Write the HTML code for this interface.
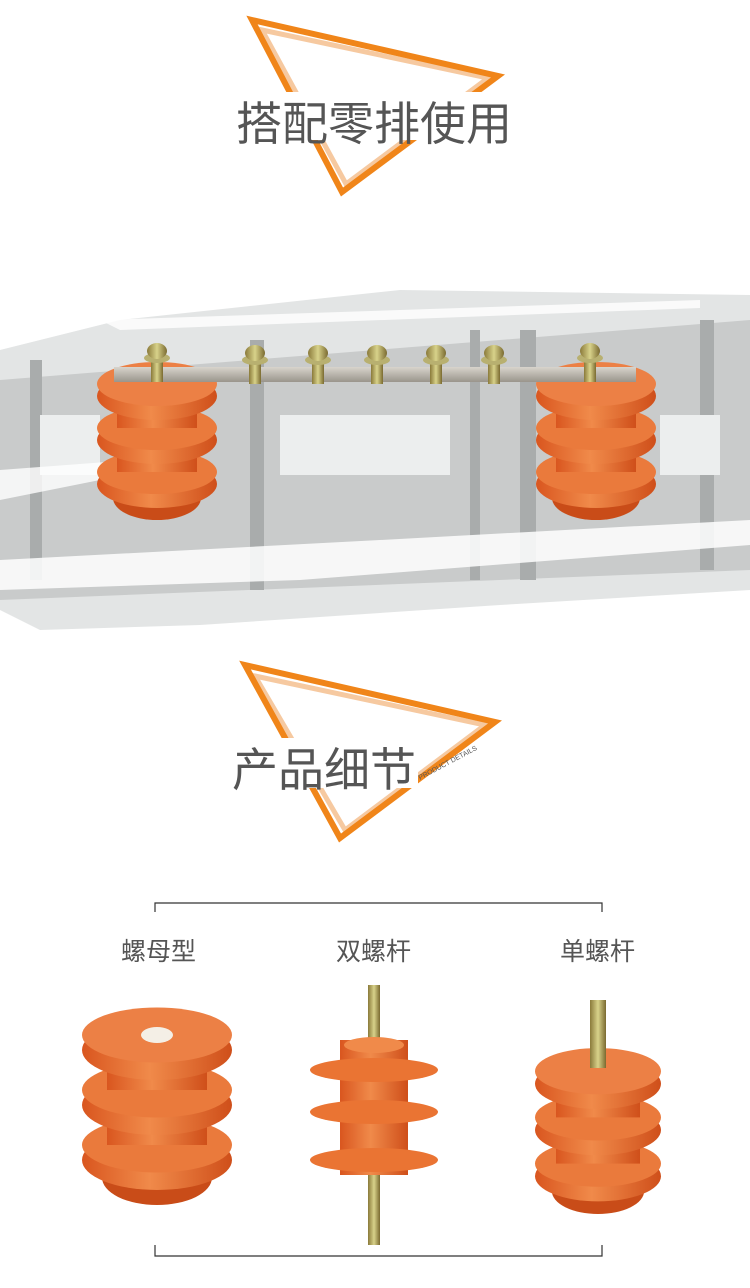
<!DOCTYPE html>
<html><head><meta charset="utf-8"><style>
html,body{margin:0;padding:0;background:#fff;}
body{width:750px;height:1288px;position:relative;overflow:hidden;font-family:"Liberation Sans","Noto Sans CJK SC",sans-serif;}
.t{position:absolute;color:#555;white-space:nowrap;}
</style></head><body>
<svg width="750" height="1288" style="position:absolute;left:0;top:0">
<defs>
<linearGradient id="og" x1="0" x2="1"><stop offset="0" stop-color="#d9561f"/><stop offset="0.45" stop-color="#f08a4a"/><stop offset="1" stop-color="#cf4f1a"/></linearGradient>
<linearGradient id="sg" x1="0" x2="1"><stop offset="0" stop-color="#8a7a3a"/><stop offset="0.5" stop-color="#d8d28a"/><stop offset="1" stop-color="#7a6a30"/></linearGradient>
<linearGradient id="bar" x1="0" y1="0" x2="0" y2="1"><stop offset="0" stop-color="#d8d4cc"/><stop offset="1" stop-color="#9a958c"/></linearGradient>
<g id="ins">
<ellipse cx="0" cy="58" rx="44" ry="22" fill="#c94c18"/>
<rect x="-44" y="45" width="88" height="13" fill="url(#og)"/>
<ellipse cx="0" cy="44" rx="60" ry="24" fill="url(#og)"/>
<ellipse cx="0" cy="32" rx="60" ry="22" fill="#ea7a3c"/>
<rect x="-40" y="10" width="80" height="22" fill="url(#og)"/>
<ellipse cx="0" cy="0" rx="60" ry="24" fill="url(#og)"/>
<ellipse cx="0" cy="-12" rx="60" ry="22" fill="#ea7a3c"/>
<rect x="-40" y="-34" width="80" height="22" fill="url(#og)"/>
<ellipse cx="0" cy="-44" rx="60" ry="24" fill="url(#og)"/>
<ellipse cx="0" cy="-56" rx="60" ry="22" fill="#ec8045"/>
</g>
<g id="scr">
<rect x="-6" y="0" width="12" height="22" fill="url(#sg)"/>
<ellipse cx="0" cy="-2" rx="13" ry="5" fill="#b8b070"/>
<ellipse cx="0" cy="-9" rx="10" ry="8" fill="url(#sg)"/>
</g>
</defs>

<!-- triangle 1 -->
<polygon points="262,30 488,78 346,184" fill="none" stroke="#f6c9a0" stroke-width="5"/>
<polygon points="252,20 498,76 342,192" fill="none" stroke="#f08519" stroke-width="6"/>
<rect x="232" y="92" width="285" height="48" fill="#fff"/>

<!-- brush band -->
<polygon points="0,350 120,320 400,290 750,295 750,590 500,605 200,625 40,630 0,610" fill="#e3e5e5"/>
<polygon points="0,380 750,320 750,570 0,600" fill="#c9cbcb"/>
<g fill="#a9acac">
<rect x="30" y="360" width="12" height="220"/><rect x="250" y="340" width="14" height="250"/><rect x="470" y="330" width="10" height="250"/><rect x="520" y="330" width="16" height="250"/><rect x="700" y="320" width="14" height="250"/>
</g>
<g fill="#eceeee"><rect x="280" y="415" width="170" height="60"/><rect x="40" y="415" width="60" height="60"/><rect x="660" y="415" width="60" height="60"/></g>
<polygon points="0,470 200,455 150,470 0,500" fill="#fff" opacity=".8"/>
<polygon points="0,560 380,540 750,520 750,545 300,580 0,590" fill="#fff" opacity=".85"/>
<polygon points="100,320 700,300 700,308 120,330" fill="#fff" opacity=".8"/>

<use href="#ins" x="157" y="440"/>
<use href="#ins" x="596" y="440"/>
<rect x="114" y="367" width="522" height="15" fill="url(#bar)"/>
<use href="#scr" x="157" y="360"/>
<use href="#scr" x="255" y="362"/><use href="#scr" x="318" y="362"/><use href="#scr" x="377" y="362"/><use href="#scr" x="436" y="362"/><use href="#scr" x="494" y="362"/>
<use href="#scr" x="590" y="360"/>

<!-- triangle 2 -->
<polygon points="255,676 485,725 345,830" fill="none" stroke="#f6c9a0" stroke-width="5"/>
<polygon points="245,665 495,722 340,838" fill="none" stroke="#f08519" stroke-width="6"/>
<rect x="228" y="738" width="190" height="50" fill="#fff"/>
<text x="420" y="780" font-size="7" fill="#555" transform="rotate(-28 420 780)" font-family="Liberation Sans">PRODUCT DETAILS</text>

<!-- brackets -->
<path d="M155,912 V903 H602 V912" fill="none" stroke="#333" stroke-width="1.2"/>
<path d="M155,1245 V1256 H602 V1245" fill="none" stroke="#333" stroke-width="1.2"/>

<!-- product 1 -->
<g transform="translate(157,1105) scale(1.25)"><use href="#ins"/></g>
<ellipse cx="157" cy="1035" rx="16" ry="8" fill="#f4efe6"/>
<!-- product 2 -->
<rect x="368" y="985" width="12" height="260" fill="url(#sg)"/>
<rect x="340" y="1040" width="68" height="135" fill="url(#og)"/>
<ellipse cx="374" cy="1070" rx="64" ry="12" fill="#ea7433"/>
<ellipse cx="374" cy="1112" rx="64" ry="12" fill="#ea7433"/>
<ellipse cx="374" cy="1160" rx="64" ry="12" fill="#ea7433"/>
<ellipse cx="374" cy="1045" rx="30" ry="8" fill="#f08a4a"/>
<!-- product 3 -->
<rect x="590" y="1000" width="16" height="60" fill="url(#sg)"/>
<g transform="translate(598,1130) scale(1.05)"><use href="#ins"/></g>
<rect x="590" y="1002" width="16" height="66" fill="url(#sg)"/>
</svg>
<div class="t" style="left:236px;top:88px;font-size:46px;">搭配零排使用</div>
<div class="t" style="left:232px;top:734px;font-size:46px;">产品细节</div>
<div class="t" style="left:121px;top:932px;font-size:25px;">螺母型</div>
<div class="t" style="left:336px;top:932px;font-size:25px;">双螺杆</div>
<div class="t" style="left:560px;top:932px;font-size:25px;">单螺杆</div>
</body></html>
